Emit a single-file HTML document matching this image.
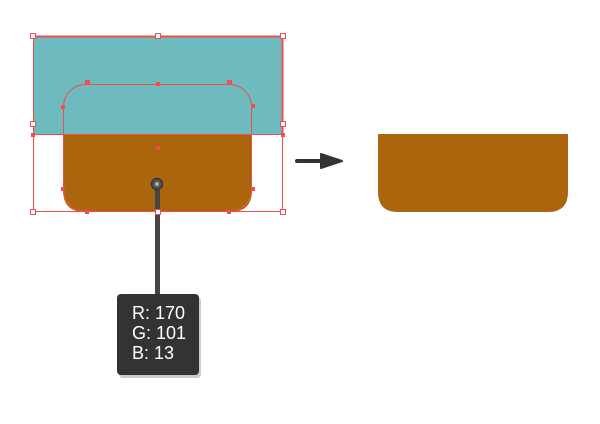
<!DOCTYPE html>
<html><head><style>
body{margin:0;background:#fff;}
</style></head><body>
<svg width="600" height="424" xmlns="http://www.w3.org/2000/svg" style="display:block">
<rect x="33" y="36" width="250" height="98" fill="#6dbbbf"/>
<path d="M63,134 H252 V190 Q252,212 230,212 H85 Q63,212 63,190 Z" fill="#aa650d"/>
<g fill="none" stroke="#f04e4e" stroke-width="1">
<rect x="33.5" y="36.5" width="249" height="175"/>
<rect x="63.5" y="84.5" width="188" height="127" rx="22"/>
<line x1="33" y1="134.5" x2="283" y2="134.5"/>
<line x1="33" y1="36.5" x2="283" y2="36.5" stroke-width="2"/>
<line x1="282.5" y1="36" x2="282.5" y2="134" stroke-width="2"/>
</g>
<g fill="#f04e4e">
<rect x="85" y="80" width="5" height="5"/><rect x="227" y="80" width="5" height="5"/>
<rect x="156" y="82" width="4" height="4"/><rect x="61" y="105" width="4" height="4"/>
<rect x="251" y="104" width="4" height="4"/><rect x="156" y="146" width="4" height="4"/>
<rect x="61" y="187" width="4" height="4"/><rect x="251" y="187" width="4" height="4"/>
<rect x="85" y="210" width="4" height="4"/><rect x="227" y="210" width="4" height="4"/>
<rect x="31" y="133" width="4" height="4"/><rect x="281" y="133" width="4" height="4"/>
</g>
<g fill="#fff" stroke="#f04e4e" stroke-width="1">
<rect x="30.5" y="33.5" width="5" height="5"/><rect x="155.5" y="33.5" width="5" height="5"/><rect x="280.5" y="33.5" width="5" height="5"/>
<rect x="30.5" y="121.5" width="5" height="5"/><rect x="280.5" y="121.5" width="5" height="5"/>
<rect x="30.5" y="209.5" width="5" height="5"/><rect x="280.5" y="209.5" width="5" height="5"/>
</g>
<rect x="155" y="184" width="5" height="110" fill="#444"/>
<rect x="155.5" y="209.5" width="5" height="5" fill="#fff" stroke="#f04e4e"/>
<circle cx="157" cy="184" r="5.5" fill="#555" stroke="#333" stroke-width="1.5"/>
<circle cx="157" cy="184" r="2" fill="#aaa"/>
<rect x="119" y="297" width="82" height="81" rx="4" fill="#ccc"/>
<rect x="117" y="294" width="82" height="81" rx="4" fill="#333"/>
<g font-family="Liberation Sans, sans-serif" font-size="18" fill="#fff">
<text x="132" y="319">R: 170</text>
<text x="132" y="339">G: 101</text>
<text x="132" y="359">B: 13</text>
</g>
<line x1="297" y1="161" x2="324" y2="161" stroke="#333" stroke-width="4" stroke-linecap="round"/>
<path d="M321,154 L342,161 L321,168 Z" fill="#333" stroke="#333" stroke-width="2" stroke-linejoin="round"/>
<path d="M378,134 H568 V192 Q568,212 548,212 H398 Q378,212 378,192 Z" fill="#aa650d"/>
</svg>
</body></html>
